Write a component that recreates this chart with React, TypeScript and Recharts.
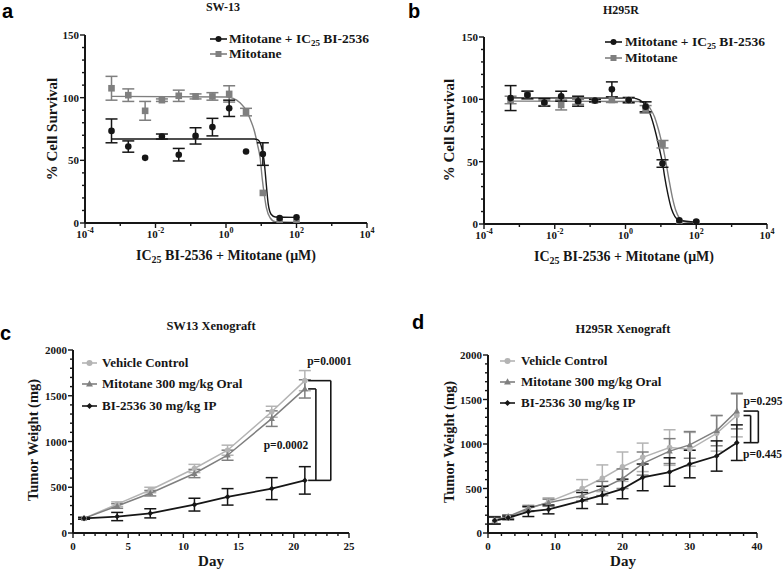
import React from 'react';
import { ComposedChart, LineChart, Line, Scatter, XAxis, YAxis, ErrorBar, ReferenceLine } from 'recharts';

const SERIF = '"Liberation Serif", "Times New Roman", serif';
const SANS = '"Liberation Sans", Arial, sans-serif';
const INK = '#161616';
const GRAY = '#7f7f7f';
const LIGHT = '#b4b4b4';

// ---- panels a, b: dose response (uM, 3-fold dilutions) ----
const doses = [0.000565, 0.00169, 0.00508, 0.0152, 0.0457, 0.137, 0.412, 1.23, 3.7, 11.1, 33.3, 100];

const sw13Combo = [73.5, 61, 52, 69, 54.5, 69.5, 76.5, 91.5, 57, 55, 4, 4.5];
const sw13ComboErr = [9.5, 4.5, 0, 2, 5, 6.5, 7, 6.5, 0, 9, 0, 0];
const sw13Mito = [107.5, 102, 89.5, 98, 101.5, 101, 101, 103, 88.5, 24, 0.5, 0.5];
const sw13MitoErr = [9.5, 5, 7.5, 1, 4.5, 2, 3, 6.5, 3, 0, 0, 0];

const sw13ComboFitX = [0.000565, 6.3, 7.9, 9.3, 10.7, 12, 13.2, 14.5, 15.8, 19, 25, 100];
const sw13ComboFitY = [67, 67, 66.5, 64, 58, 50, 38, 25, 15, 7, 4.8, 4.5];
const sw13MitoFitX = [0.000565, 1, 1.6, 2.5, 3.9, 5, 6.3, 7.9, 9.3, 10.7, 12, 14, 18, 25, 100];
const sw13MitoFitY = [101, 100.5, 99.5, 96, 89, 82, 74, 62, 52, 35, 24, 12, 4, 1, 0.5];

const h295Combo = [101, 103.5, 97.5, 102.5, 98.5, 99, 108, 99.5, 94, 48.5, 3, 2];
const h295ComboErr = [10, 3, 3, 4, 4, 1, 6, 2, 4, 3, 0, 0];
const h295Mito = [99.5, 103.5, 97, 95.5, 98, 99, 99.5, 99, 92, 64, 1, 0.8];
const h295MitoErr = [3, 3, 2, 4, 2, 1, 2, 2, 3, 3, 0, 0];

const h295ComboFitX = [0.000565, 1.6, 2.5, 3.7, 5, 6.3, 7.9, 10, 11.2, 12.6, 15.8, 20, 25, 33, 100];
const h295ComboFitY = [101.2, 101, 99.5, 95, 88, 79, 68, 55, 48.5, 39, 24, 12, 6, 3, 1.5];
const h295MitoFitX = [0.000565, 2.5, 4, 4.9, 6.6, 8.3, 10.5, 11.2, 13.2, 16.6, 20.9, 26.3, 33, 44, 100];
const h295MitoFitY = [98.6, 98.3, 97, 93, 86, 77, 66, 63, 53, 37, 22, 11, 5, 2, 0.5];

// ---- panels c, d: xenograft tumour weight (mg) ----
const sw13Days = [1, 4, 7, 11, 14, 18, 21];
const sw13Vehicle = [160, 315, 470, 705, 905, 1325, 1665];
const sw13VehicleErr = [10, 25, 30, 45, 55, 60, 110];
const sw13Mitotane = [160, 295, 435, 650, 850, 1250, 1575];
const sw13MitotaneErr = [10, 25, 30, 45, 55, 85, 100];
const sw13BI = [160, 180, 215, 310, 395, 485, 575];
const sw13BIErr = [10, 45, 50, 70, 90, 120, 150];

const h295Days = [1, 3, 6, 9, 14, 17, 20, 23, 27, 30, 34, 37];
const h295Vehicle = [140, 180, 270, 350, 500, 615, 745, 850, 960, 940, 1120, 1320];
const h295VehicleErr = [40, 20, 30, 45, 100, 150, 165, 160, 200, 190, 200, 240];
const h295Mitotane = [145, 185, 280, 340, 420, 500, 610, 780, 920, 990, 1150, 1370];
const h295MitotaneErr = [40, 20, 30, 40, 60, 80, 110, 130, 140, 150, 170, 200];
const h295BI = [140, 170, 240, 265, 365, 425, 495, 625, 685, 775, 865, 1015];
const h295BIErr = [40, 20, 55, 50, 90, 100, 110, 150, 160, 155, 170, 200];

const logTicks = [1e-4, 1e-3, 1e-2, 1e-1, 1, 10, 100, 1000, 10000];
const doseYTicks = [0, 10, 20, 30, 40, 50, 60, 70, 80, 90, 100, 110, 120, 130, 140, 150];
const weightTicks = Array.from({ length: 21 }, (_, i) => i * 100);
const sw13DayTicks = Array.from({ length: 26 }, (_, i) => i);
const h295DayTicks = Array.from({ length: 21 }, (_, i) => i * 2);

const rows = (key: string, xs: number[], ys: number[], es?: number[]) =>
  xs.map((x, i) => ({ [key]: x, v: ys[i], e: es ? es[i] : 0 }));

type Kind = 'circle' | 'square' | 'triangle' | 'diamond';

function Marker({ kind, cx, cy, color, r = 3.2 }: { kind: Kind; cx: number; cy: number; color: string; r?: number }) {
  if (cx == null || cy == null) return null;
  if (kind === 'square') return <rect x={cx - r} y={cy - r} width={2 * r} height={2 * r} fill={color} />;
  if (kind === 'triangle')
    return <polygon points={`${cx},${cy - r * 1.25} ${cx + r * 1.15},${cy + r * 0.85} ${cx - r * 1.15},${cy + r * 0.85}`} fill={color} />;
  if (kind === 'diamond')
    return <polygon points={`${cx},${cy - r} ${cx + r},${cy} ${cx},${cy + r} ${cx - r},${cy}`} fill={color} />;
  return <circle cx={cx} cy={cy} r={r} fill={color} />;
}

const tickText = { fontFamily: SERIF, fontWeight: 700, fontSize: 11, fill: INK } as const;

function LogTick(props: any) {
  const { x, y, payload } = props;
  const exp = Math.round(Math.log10(payload.value));
  const major = exp % 2 === 0;
  return (
    <g>
      <line x1={x} x2={x} y1={y} y2={y + (major ? 5 : 3)} stroke={INK} strokeWidth={1.4} />
      {major && (
        <text x={x} y={y + 15} textAnchor="middle" {...tickText}>
          10<tspan dy={-5} fontSize={8}>{exp}</tspan>
        </text>
      )}
    </g>
  );
}

const yTick = (step: number) => (props: any) => {
  const { x, y, payload } = props;
  const major = payload.value % step === 0;
  return (
    <g>
      <line x1={x} x2={x - (major ? 5 : 3)} y1={y} y2={y} stroke={INK} strokeWidth={1.4} />
      {major && (
        <text x={x - 6} y={y + 4} textAnchor="end" {...tickText}>
          {payload.value}
        </text>
      )}
    </g>
  );
};

const xTick = (step: number) => (props: any) => {
  const { x, y, payload } = props;
  const major = payload.value % step === 0;
  return (
    <g>
      <line x1={x} x2={x} y1={y} y2={y + (major ? 5 : 3)} stroke={INK} strokeWidth={1.4} />
      {major && (
        <text x={x} y={y + 17} textAnchor="middle" {...tickText}>
          {payload.value}
        </text>
      )}
    </g>
  );
};

const axisLine = { stroke: INK, strokeWidth: 2 };

interface DoseProps {
  left: number;
  margin: { top: number; right: number; bottom: number; left: number };
  combo: number[];
  comboErr: number[];
  mito: number[];
  mitoErr: number[];
  comboFit: [number[], number[]];
  mitoFit: [number[], number[]];
}

function DoseChart(p: DoseProps) {
  return (
    <div style={{ position: 'absolute', left: p.left, top: 0 }}>
      <ComposedChart width={392} height={290} margin={p.margin}>
        <XAxis
          type="number"
          dataKey="conc"
          scale="log"
          domain={[1e-4, 1e4]}
          ticks={logTicks}
          interval={0}
          allowDataOverflow
          height={30}
          axisLine={axisLine}
          tickLine={false}
          tickSize={0}
          tickMargin={0}
          tick={LogTick}
        />
        <YAxis
          type="number"
          domain={[0, 150]}
          ticks={doseYTicks}
          interval={0}
          allowDataOverflow
          width={40}
          axisLine={axisLine}
          tickLine={false}
          tickSize={0}
          tickMargin={0}
          tick={yTick(50)}
        />
        <Line data={rows('conc', p.mitoFit[0], p.mitoFit[1])} dataKey="v" type="monotone" stroke={GRAY} strokeWidth={1.4} dot={false} isAnimationActive={false} />
        <Line data={rows('conc', p.comboFit[0], p.comboFit[1])} dataKey="v" type="monotone" stroke={INK} strokeWidth={1.4} dot={false} isAnimationActive={false} />
        <Scatter
          data={rows('conc', doses, p.mito, p.mitoErr)}
          dataKey="v"
          fill={GRAY}
          isAnimationActive={false}
          shape={(s: any) => <Marker kind="square" cx={s.cx} cy={s.cy} color={GRAY} r={3.3} />}
        >
          <ErrorBar dataKey="e" direction="y" width={6} stroke={GRAY} strokeWidth={1.5} />
        </Scatter>
        <Scatter
          data={rows('conc', doses, p.combo, p.comboErr)}
          dataKey="v"
          fill={INK}
          isAnimationActive={false}
          shape={(s: any) => <Marker kind="circle" cx={s.cx} cy={s.cy} color={INK} r={3.3} />}
        >
          <ErrorBar dataKey="e" direction="y" width={6} stroke={INK} strokeWidth={1.5} />
        </Scatter>
      </ComposedChart>
    </div>
  );
}

interface Series {
  name: string;
  kind: Kind;
  color: string;
  width: number;
  ys: number[];
  es: number[];
}

interface Bracket {
  x0: number;
  x1: number;
  top: number;
  bottom: number;
  base?: boolean;
}

interface GrowthProps {
  left: number;
  margin: { top: number; right: number; bottom: number; left: number };
  days: number[];
  dayMax: number;
  dayTicks: number[];
  dayStep: number;
  series: Series[];
  brackets: Bracket[];
}

function GrowthChart(p: GrowthProps) {
  const seg = (a: [number, number], b: [number, number], k: string) => (
    <ReferenceLine
      key={k}
      segment={[{ x: a[0], y: a[1] }, { x: b[0], y: b[1] }]}
      stroke={INK}
      strokeWidth={1.6}
      ifOverflow="visible"
    />
  );
  return (
    <div style={{ position: 'absolute', left: p.left, top: 290 }}>
      <LineChart width={392} height={283} margin={p.margin}>
        <XAxis
          type="number"
          dataKey="day"
          domain={[0, p.dayMax]}
          ticks={p.dayTicks}
          interval={0}
          allowDataOverflow
          height={30}
          axisLine={axisLine}
          tickLine={false}
          tickSize={0}
          tickMargin={0}
          tick={xTick(p.dayStep)}
        />
        <YAxis
          type="number"
          domain={[0, 2000]}
          ticks={weightTicks}
          interval={0}
          allowDataOverflow
          width={40}
          axisLine={axisLine}
          tickLine={false}
          tickSize={0}
          tickMargin={0}
          tick={yTick(500)}
        />
        {p.series.map((s) => (
          <Line
            key={s.name}
            data={rows('day', p.days, s.ys, s.es)}
            dataKey="v"
            type="linear"
            stroke={s.color}
            strokeWidth={s.width}
            isAnimationActive={false}
            dot={(d: any) => <Marker key={`${s.name}-${d.index}`} kind={s.kind} cx={d.cx} cy={d.cy} color={s.color} r={2.8} />}
          >
            <ErrorBar dataKey="e" direction="y" width={6} stroke={s.color} strokeWidth={1.5} />
          </Line>
        ))}
        {p.brackets.map((b, i) => [
          seg([b.x0, b.top], [b.x1, b.top], `t${i}`),
          seg([b.x1, b.top], [b.x1, b.bottom], `v${i}`),
          b.base ? seg([b.x0, b.bottom], [b.x1, b.bottom], `b${i}`) : null,
        ])}
      </LineChart>
    </div>
  );
}

const label = { fontFamily: SERIF, fontWeight: 700, fill: INK } as const;

function LegendRows({ x, x2, tx, ys, items, fontSize }: { x: number; x2: number; tx: number; ys: number[]; items: { text: React.ReactNode; kind: Kind; color: string }[]; fontSize: number }) {
  return (
    <g>
      {items.map((it, i) => (
        <g key={i}>
          <line x1={x} x2={x2} y1={ys[i]} y2={ys[i]} stroke={it.color} strokeWidth={1.6} />
          <Marker kind={it.kind} cx={(x + x2) / 2} cy={ys[i]} color={it.color} r={3} />
          <text x={tx} y={ys[i] + fontSize * 0.33} fontSize={fontSize} {...label}>
            {it.text}
          </text>
        </g>
      ))}
    </g>
  );
}

const comboText = (
  <>
    Mitotane + IC<tspan fontSize={9} dy={3}>25</tspan>
    <tspan dy={-3}> BI-2536</tspan>
  </>
);
const xDoseText = (
  <>
    IC<tspan fontSize={10} dy={3}>25</tspan>
    <tspan dy={-3}> BI-2536 + Mitotane (μM)</tspan>
  </>
);

function Overlay() {
  const growthItems = [
    { text: 'Vehicle Control', kind: 'circle' as Kind, color: LIGHT },
    { text: 'Mitotane 300 mg/kg Oral', kind: 'triangle' as Kind, color: GRAY },
    { text: 'BI-2536 30 mg/kg IP', kind: 'diamond' as Kind, color: INK },
  ];
  const doseItems = [
    { text: comboText, kind: 'circle' as Kind, color: INK },
    { text: 'Mitotane', kind: 'square' as Kind, color: GRAY },
  ];
  return (
    <svg width={784} height={573} style={{ position: 'absolute', left: 0, top: 0, pointerEvents: 'none' }}>
      <g fontFamily={SANS} fontWeight={700} fontSize={20} fill="#000">
        <text x={2} y={18}>a</text>
        <text x={408} y={18}>b</text>
        <text x={0} y={340}>c</text>
        <text x={412} y={329}>d</text>
      </g>
      <text x={223} y={11} textAnchor="middle" fontSize={12} {...label}>SW-13</text>
      <text x={621} y={14} textAnchor="middle" fontSize={12} {...label}>H295R</text>
      <text x={211} y={330} textAnchor="middle" fontSize={12.5} {...label}>SW13 Xenograft</text>
      <text x={623} y={333} textAnchor="middle" fontSize={12.5} {...label}>H295R Xenograft</text>

      <text transform="translate(52,129) rotate(-90)" textAnchor="middle" dominantBaseline="central" fontSize={15} {...label}>% Cell Survival</text>
      <text transform="translate(449,130) rotate(-90)" textAnchor="middle" dominantBaseline="central" fontSize={15} {...label}>% Cell Survival</text>
      <text transform="translate(33,440) rotate(-90)" textAnchor="middle" dominantBaseline="central" fontSize={14.5} {...label}>Tumor Weight (mg)</text>
      <text transform="translate(449,442) rotate(-90)" textAnchor="middle" dominantBaseline="central" fontSize={14.5} {...label}>Tumor Weight (mg)</text>

      <text x={226} y={260} textAnchor="middle" fontSize={14} {...label}>{xDoseText}</text>
      <text x={624} y={261} textAnchor="middle" fontSize={14} {...label}>{xDoseText}</text>
      <text x={211} y={566} textAnchor="middle" fontSize={15} {...label}>Day</text>
      <text x={623} y={566} textAnchor="middle" fontSize={15} {...label}>Day</text>

      <LegendRows x={210} x2={227} tx={229} ys={[39, 54]} items={doseItems} fontSize={13.5} />
      <LegendRows x={605} x2={622} tx={625} ys={[42, 58]} items={doseItems} fontSize={13.5} />
      <LegendRows x={82} x2={97} tx={102} ys={[363, 384, 406]} items={growthItems} fontSize={13} />
      <LegendRows x={500} x2={515} tx={521} ys={[361, 382, 403]} items={growthItems} fontSize={13} />

      <text x={329.5} y={365} textAnchor="middle" fontSize={11.5} {...label}>p=0.0001</text>
      <text x={286} y={449} textAnchor="middle" fontSize={11.5} {...label}>p=0.0002</text>
      <text x={763} y={405} textAnchor="middle" fontSize={11.5} {...label}>p=0.295</text>
      <text x={762.5} y={458} textAnchor="middle" fontSize={11.5} {...label}>p=0.445</text>
    </svg>
  );
}

export default function App() {
  const last = (a: number[]) => a[a.length - 1];
  const sw13Series: Series[] = [
    { name: 'veh', kind: 'circle', color: LIGHT, width: 1.5, ys: sw13Vehicle, es: sw13VehicleErr },
    { name: 'mit', kind: 'triangle', color: GRAY, width: 1.5, ys: sw13Mitotane, es: sw13MitotaneErr },
    { name: 'bi', kind: 'diamond', color: INK, width: 1.8, ys: sw13BI, es: sw13BIErr },
  ];
  const h295Series: Series[] = [
    { name: 'veh', kind: 'circle', color: LIGHT, width: 1.5, ys: h295Vehicle, es: h295VehicleErr },
    { name: 'mit', kind: 'triangle', color: GRAY, width: 1.5, ys: h295Mitotane, es: h295MitotaneErr },
    { name: 'bi', kind: 'diamond', color: INK, width: 1.8, ys: h295BI, es: h295BIErr },
  ];
  return (
    <div style={{ position: 'fixed', left: 0, top: 0, width: 784, height: 573, background: '#fff', overflow: 'hidden' }}>
      <DoseChart
        left={0}
        margin={{ top: 35, right: 25, bottom: 37, left: 45 }}
        combo={sw13Combo}
        comboErr={sw13ComboErr}
        mito={sw13Mito}
        mitoErr={sw13MitoErr}
        comboFit={[sw13ComboFitX, sw13ComboFitY]}
        mitoFit={[sw13MitoFitX, sw13MitoFitY]}
      />
      <DoseChart
        left={392}
        margin={{ top: 37, right: 17, bottom: 36, left: 52 }}
        combo={h295Combo}
        comboErr={h295ComboErr}
        mito={h295Mito}
        mitoErr={h295MitoErr}
        comboFit={[h295ComboFitX, h295ComboFitY]}
        mitoFit={[h295MitoFitX, h295MitoFitY]}
      />
      <GrowthChart
        left={0}
        margin={{ top: 60, right: 43, bottom: 10, left: 33 }}
        days={sw13Days}
        dayMax={25}
        dayTicks={sw13DayTicks}
        dayStep={5}
        series={sw13Series}
        brackets={[
          { x0: 21.3, x1: 23.35, top: last(sw13Vehicle), bottom: last(sw13BI), base: true },
          { x0: 21.3, x1: 22.0, top: last(sw13Mitotane), bottom: last(sw13BI) },
        ]}
      />
      <GrowthChart
        left={392}
        margin={{ top: 65, right: 27, bottom: 10, left: 56 }}
        days={h295Days}
        dayMax={40}
        dayTicks={h295DayTicks}
        dayStep={10}
        series={h295Series}
        brackets={[
          { x0: 38.0, x1: 40.2, top: last(h295Mitotane), bottom: last(h295BI), base: true },
          { x0: 38.0, x1: 39.05, top: last(h295Vehicle), bottom: last(h295BI) },
        ]}
      />
      <Overlay />
    </div>
  );
}
